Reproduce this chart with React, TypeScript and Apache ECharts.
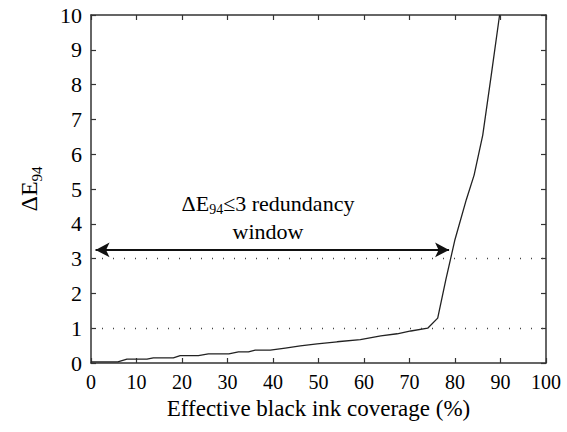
import React, { useEffect, useRef } from "react";
import * as echarts from "echarts";

const coverage = [0, 5.9, 7.9, 12.3, 13.7, 18.1, 19.6, 23.6, 25.8, 30.3, 32.4, 34.6, 36.1, 39.4, 42.7, 46, 49.7, 54.1, 59.2, 63.7, 67.3, 70.3, 74, 76.2, 78, 80, 82.5, 84.2, 86.1, 88, 89.8];
const deltaE = [0.03, 0.03, 0.11, 0.11, 0.15, 0.15, 0.21, 0.21, 0.26, 0.26, 0.32, 0.32, 0.37, 0.37, 0.43, 0.49, 0.55, 0.61, 0.67, 0.78, 0.84, 0.92, 1.0, 1.29, 2.4, 3.55, 4.7, 5.4, 6.55, 8.3, 10];
const xTicks = { min: 0, max: 100, interval: 10 };
const yTicks = { min: 0, max: 10, interval: 1 };
const thresholds = [1, 3];
const windowArrow = { y: 3.25, from: 1, to: 78.7 };

const FONT = "'Liberation Serif', 'Times New Roman', serif";

export default function App() {
  const ref = useRef<HTMLDivElement>(null);
  useEffect(() => {
    if (!ref.current) return;
    const chart = echarts.init(ref.current, undefined, { renderer: "svg" });
    const axisLineStyle = { color: "#333", width: 1.5 };
    const common = {
      axisLine: { show: true, onZero: false, lineStyle: axisLineStyle },
      axisTick: { show: true, inside: true, length: 5, lineStyle: { color: "#333", width: 1.2 } },
      splitLine: { show: false },
    };
    chart.setOption({
      animation: false,
      backgroundColor: "#fff",
      textStyle: { fontFamily: FONT },
      grid: { left: 91, right: 21, top: 15, bottom: 69 },
      xAxis: [
        {
          type: "value", ...xTicks, position: "bottom", ...common,
          axisLabel: { fontFamily: FONT, fontSize: 20, color: "#000", margin: 9, showMaxLabel: true },
          name: "Effective black ink coverage (%)",
          nameLocation: "middle", nameGap: 34,
          nameTextStyle: { fontFamily: FONT, fontSize: 23, color: "#000" },
        },
        { type: "value", ...xTicks, position: "top", ...common, axisLabel: { show: false } },
      ],
      yAxis: [
        {
          type: "value", ...yTicks, position: "left", ...common,
          axisLabel: { fontFamily: FONT, fontSize: 22, color: "#000", margin: 9 },
          name: "{m|ΔE}{s|94}",
          nameLocation: "middle", nameGap: 50, nameRotate: 90,
          nameTextStyle: {
            fontFamily: FONT, fontSize: 24, color: "#000",
            rich: {
              m: { fontFamily: FONT, fontSize: 24, color: "#000", lineHeight: 30, verticalAlign: "bottom" },
              s: { fontFamily: FONT, fontSize: 15, color: "#000", lineHeight: 15, verticalAlign: "top", padding: [18, 0, 0, 0] },
            },
          },
        },
        { type: "value", ...yTicks, position: "right", ...common, axisLabel: { show: false } },
      ],
      series: [
        {
          type: "line",
          data: coverage.map((x, i) => [x, deltaE[i]]),
          showSymbol: false,
          lineStyle: { color: "#222", width: 1.3 },
          clip: true,
          markLine: {
            silent: true,
            symbol: "none",
            label: { show: false },
            lineStyle: { type: [1, 10], color: "#444", width: 1.3 },
            data: thresholds.map((t) => [{ coord: [0, t] }, { coord: [100, t] }]),
          },
        },
        {
          type: "line",
          data: [],
          markLine: {
            silent: true,
            symbol: ["arrow", "arrow"],
            symbolSize: [11, 14],
            label: { show: false },
            lineStyle: { type: "solid", color: "#111", width: 2.2 },
            data: [[{ coord: [windowArrow.from, windowArrow.y] }, { coord: [windowArrow.to, windowArrow.y] }]],
          },
        },
      ],
      graphic: [
        {
          type: "text",
          x: 268,
          y: 186,
          style: {
            text: "{m|ΔE}{s|94}{m|≤3 redundancy}\n{m|window}",
            align: "center",
            fontFamily: FONT,
            fontSize: 22,
            rich: {
              m: { fontFamily: FONT, fontSize: 22, fill: "#000", lineHeight: 28, verticalAlign: "bottom" },
              s: { fontFamily: FONT, fontSize: 14, fill: "#000", lineHeight: 14, verticalAlign: "top", padding: [16, 0, 0, 0] },
            },
          },
        },
      ],
    });
    return () => chart.dispose();
  }, []);
  return <div ref={ref} style={{ position: "absolute", left: 0, top: 0, width: 567, height: 432 }} />;
}
